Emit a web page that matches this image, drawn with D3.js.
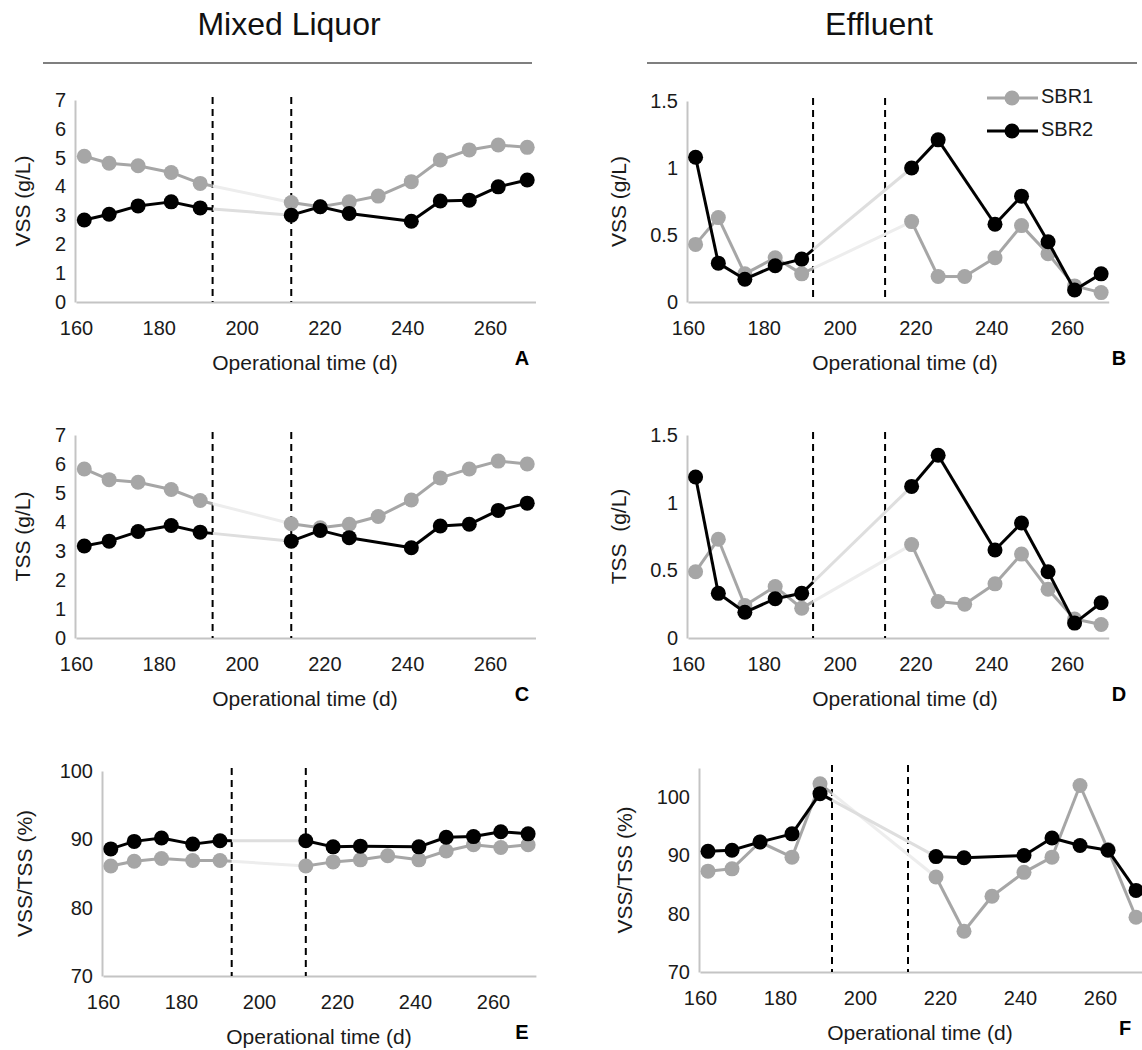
<!DOCTYPE html>
<html>
<head>
<meta charset="utf-8">
<script src="https://cdn.jsdelivr.net/npm/d3@7"></script>
<style>
  body { margin: 0; background: #fff; }
  svg { display: block; }
  text { font-family: "Liberation Sans", Arial, sans-serif; }
</style>
</head>
<body>
<svg id="chart" width="1142" height="1050"></svg>
<script>
// Sampling days (operational time, d)
const days = [162, 168, 175, 183, 190, 212, 219, 226, 233, 241, 248, 255, 262, 269];
const xTicks = [160, 180, 200, 220, 240, 260];
const gapStart = 193, gapEnd = 212;   // period marked by the dashed lines

// Mixed liquor VSS (g/L)
const vssMLSbr1 = [5.05, 4.81, 4.72, 4.49, 4.11, 3.45, 3.30, 3.47, 3.67, 4.17, 4.92, 5.27, 5.44, 5.36];
const vssMLSbr2 = [2.84, 3.04, 3.33, 3.47, 3.26, 3.01, 3.30, 3.07, null, 2.80, 3.50, 3.53, 3.99, 4.23];
// Effluent VSS (g/L)
const vssEffSbr1 = [0.43, 0.63, 0.21, 0.33, 0.21, null, 0.60, 0.19, 0.19, 0.33, 0.57, 0.36, 0.12, 0.07];
const vssEffSbr2 = [1.08, 0.29, 0.17, 0.27, 0.32, null, 1.00, 1.21, null, 0.58, 0.79, 0.45, 0.09, 0.21];
// Mixed liquor TSS (g/L)
const tssMLSbr1 = [5.83, 5.46, 5.37, 5.12, 4.74, 3.94, 3.80, 3.92, 4.19, 4.76, 5.52, 5.83, 6.10, 6.00];
const tssMLSbr2 = [3.17, 3.34, 3.67, 3.88, 3.65, 3.34, 3.71, 3.46, null, 3.11, 3.86, 3.92, 4.40, 4.65];
// Effluent TSS (g/L)
const tssEffSbr1 = [0.49, 0.73, 0.24, 0.38, 0.22, null, 0.69, 0.27, 0.25, 0.40, 0.62, 0.36, 0.14, 0.10];
const tssEffSbr2 = [1.19, 0.33, 0.19, 0.29, 0.33, null, 1.12, 1.35, null, 0.65, 0.85, 0.49, 0.11, 0.26];
// VSS/TSS (%)
const ratioMLSbr1 = [86.1, 86.8, 87.2, 86.9, 86.9, 86.1, 86.7, 87.0, 87.6, 87.0, 88.3, 89.2, 88.8, 89.2];
const ratioMLSbr2 = [88.6, 89.7, 90.2, 89.3, 89.8, 89.8, 88.9, 89.0, null, 88.9, 90.3, 90.4, 91.1, 90.8];
const ratioEffSbr1 = [87.3, 87.7, 92.3, 89.7, 102.3, null, 86.3, 77.0, 83.0, 87.1, 89.7, 102.0, 91.0, 79.4];
const ratioEffSbr2 = [90.7, 90.9, 92.3, 93.7, 100.6, null, 89.8, 89.6, null, 90.0, 93.0, 91.7, 90.9, 84.0];

const gTicks = [0, 1, 2, 3, 4, 5, 6, 7];
const effTicks = [0, 0.5, 1, 1.5];
const pctTicks = [70, 80, 90, 100];

const seriesNames = ["SBR1", "SBR2"];
const colors = { SBR1: "#a6a6a6", SBR2: "#000000" };
const faint = { SBR1: "#ededed", SBR2: "#dedede" };

const svg = d3.select("#chart");

// Column headers
const headers = [
  { text: "Mixed Liquor", cx: 289, x0: 43, x1: 532 },
  { text: "Effluent", cx: 879, x0: 647, x1: 1137 }
];
headers.forEach(h => {
  svg.append("text").attr("x", h.cx).attr("y", 35).attr("text-anchor", "middle")
    .attr("font-size", 32).attr("fill", "#111").text(h.text);
  svg.append("line").attr("x1", h.x0).attr("x2", h.x1).attr("y1", 63).attr("y2", 63)
    .attr("stroke", "#555").attr("stroke-width", 1.5);
});

// x range is given for the domain [160, 271] days
const panels = [
  { id: "A", s1: vssMLSbr1, s2: vssMLSbr2, yDomain: [0, 7], yTicks: gTicks, fmt: d3.format("d"),
    xr: [76, 535.5], yr: [302, 100], yTitle: "VSS (g/L)", ytx: 24, xtc: 305, lx: 522 },
  { id: "B", s1: vssEffSbr1, s2: vssEffSbr2, yDomain: [0, 1.5], yTicks: effTicks, fmt: d => String(d),
    xr: [688, 1108.7], yr: [302, 101], yTitle: "VSS (g/L)", ytx: 620, xtc: 905, lx: 1119, legend: true },
  { id: "C", s1: tssMLSbr1, s2: tssMLSbr2, yDomain: [0, 7], yTicks: gTicks, fmt: d3.format("d"),
    xr: [76, 535.5], yr: [638, 435], yTitle: "TSS (g/L)", ytx: 24, xtc: 305, lx: 522 },
  { id: "D", s1: tssEffSbr1, s2: tssEffSbr2, yDomain: [0, 1.5], yTicks: effTicks, fmt: d => String(d),
    xr: [688, 1108.7], yr: [638, 435], yTitle: "TSS\u00a0\u00a0(g/L)", ytx: 620, xtc: 905, lx: 1119 },
  { id: "E", s1: ratioMLSbr1, s2: ratioMLSbr2, yDomain: [70, 100], yTicks: pctTicks, fmt: d3.format("d"),
    xr: [103, 535.9], yr: [976, 771], yTitle: "VSS/TSS\u00a0(%)", ytx: 26, xtc: 319, lx: 522 },
  { id: "F", s1: ratioEffSbr1, s2: ratioEffSbr2, yDomain: [70, 105], yTicks: pctTicks, fmt: d3.format("d"),
    xr: [700, 1144], yr: [972, 768], yTitle: "VSS/TSS\u00a0(%)", ytx: 626, xtc: 920, lx: 1125 }
];

function drawPanel(p) {
  const g = svg.append("g").attr("class", "panel-" + p.id);
  const x = d3.scaleLinear().domain([160, 271]).range(p.xr);
  const y = d3.scaleLinear().domain(p.yDomain).range(p.yr);
  const base = p.yr[0];

  // axes
  const xAxis = g.append("g").attr("transform", `translate(0,${base})`)
    .call(d3.axisBottom(x).tickValues(xTicks).tickSize(0).tickSizeOuter(0).tickPadding(19).tickFormat(d3.format("d")));
  const yAxis = g.append("g").attr("transform", `translate(${p.xr[0] - 1},0)`)
    .call(d3.axisLeft(y).tickValues(p.yTicks).tickSize(0).tickSizeOuter(0).tickPadding(9).tickFormat(p.fmt));
  [xAxis, yAxis].forEach(a => {
    a.select(".domain").attr("stroke", "#c4c4c4").attr("stroke-width", 2);
    a.selectAll("text").attr("font-size", 20).attr("fill", "#1a1a1a")
      .style("font-family", '"Liberation Sans", Arial, sans-serif');
  });

  // axis titles and panel letter
  g.append("text").attr("x", p.xtc).attr("y", base + 62).attr("text-anchor", "middle")
    .attr("dominant-baseline", "middle")
    .attr("font-size", 21).attr("fill", "#1a1a1a").text("Operational time (d)");
  g.append("text").attr("transform", `translate(${p.ytx},${(p.yr[0] + p.yr[1]) / 2}) rotate(-90)`)
    .attr("text-anchor", "middle").attr("dominant-baseline", "middle")
    .attr("font-size", 21).attr("fill", "#1a1a1a").text(p.yTitle);
  g.append("text").attr("x", p.lx).attr("y", base + 58).attr("text-anchor", "middle")
    .attr("dominant-baseline", "middle")
    .attr("font-size", 20).attr("font-weight", "bold").attr("fill", "#000").text(p.id);

  // dashed markers for the interruption period
  [gapStart, gapEnd].forEach(d => {
    g.append("line").attr("x1", x(d)).attr("x2", x(d))
      .attr("y1", p.yr[1] - 3).attr("y2", base)
      .attr("stroke", "#000").attr("stroke-width", 2).attr("stroke-dasharray", "7,5");
  });

  // series
  [[seriesNames[0], p.s1], [seriesNames[1], p.s2]].forEach(([name, vals]) => {
    const pts = days.map((d, i) => ({ d, v: vals[i] })).filter(o => o.v !== null);
    const sg = g.append("g");
    for (let i = 0; i < pts.length - 1; i++) {
      const a = pts[i], b = pts[i + 1];
      if (a.d < gapStart && b.d >= gapEnd) {
        // segment across the interruption: solid up to the first dashed line, faint afterwards
        const t = (gapStart - a.d) / (b.d - a.d);
        const vm = a.v + t * (b.v - a.v);
        sg.append("line").attr("x1", x(b.d)).attr("y1", y(b.v)).attr("x2", x(gapStart)).attr("y2", y(vm))
          .attr("stroke", faint[name]).attr("stroke-width", 3);
        sg.append("line").attr("x1", x(a.d)).attr("y1", y(a.v)).attr("x2", x(gapStart)).attr("y2", y(vm))
          .attr("stroke", colors[name]).attr("stroke-width", 3);
      } else {
        sg.append("line").attr("x1", x(a.d)).attr("y1", y(a.v)).attr("x2", x(b.d)).attr("y2", y(b.v))
          .attr("stroke", colors[name]).attr("stroke-width", 3);
      }
    }
    sg.selectAll("circle").data(pts).join("circle")
      .attr("cx", o => x(o.d)).attr("cy", o => y(o.v)).attr("r", 7.5)
      .attr("fill", colors[name]);
  });

  if (p.legend) {
    seriesNames.forEach((name, i) => {
      const ly = 98 + i * 33;
      g.append("line").attr("x1", 987).attr("x2", 1038).attr("y1", ly).attr("y2", ly)
        .attr("stroke", colors[name]).attr("stroke-width", 3);
      g.append("circle").attr("cx", 1012).attr("cy", ly).attr("r", 7.5).attr("fill", colors[name]);
      g.append("text").attr("x", 1041).attr("y", ly).attr("dominant-baseline", "middle")
        .attr("font-size", 20).attr("fill", "#1a1a1a").text(name);
    });
  }
}

panels.forEach(drawPanel);
</script>
</body>
</html>
